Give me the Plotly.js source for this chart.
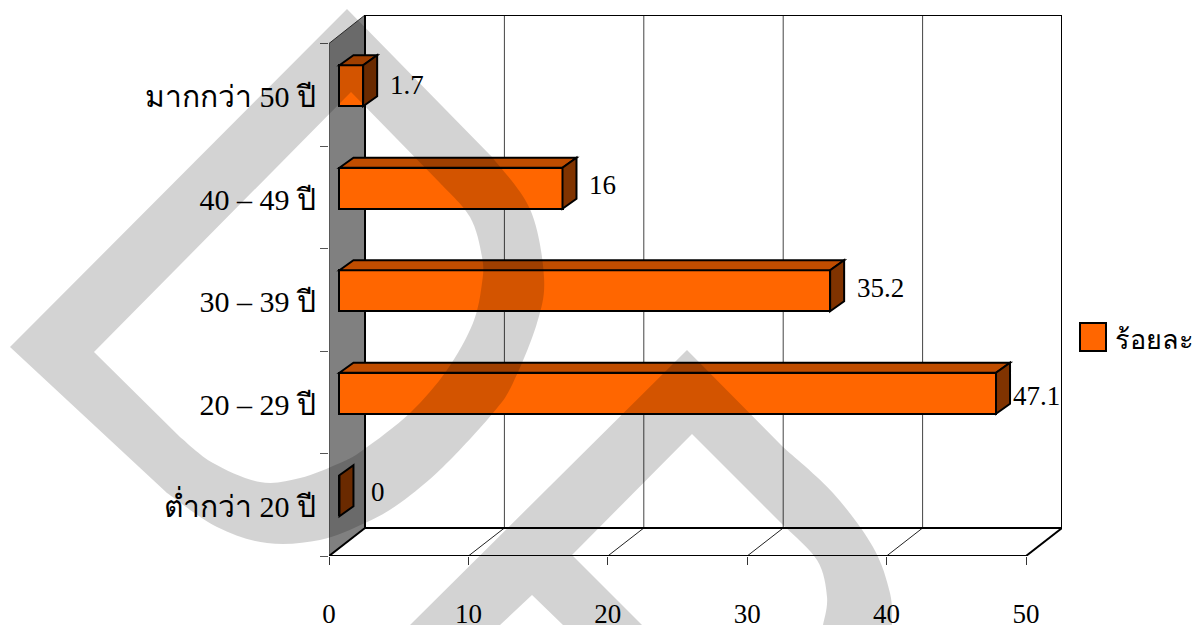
<!DOCTYPE html>
<html>
<head>
<meta charset="utf-8">
<script src="https://cdn.plot.ly/plotly-3.0.1.min.js"></script>
<style>html,body{margin:0;padding:0;background:#fff;overflow:hidden}</style>
</head>
<body>
<div id="chart" style="width:1193px;height:625px"></div>
<script>
// Age groups, bottom to top, and their percentages
const categories = ['ต่ำกว่า 20 ปี', '20 – 29 ปี', '30 – 39 ปี', '40 – 49 ปี', 'มากกว่า 50 ปี'];
const percents = [0, 47.1, 35.2, 16, 1.7];
const seriesName = 'ร้อยละ';
const xTicks = [0, 10, 20, 30, 40, 50];

// Pixel nudges for the value labels, same order as the categories
const labelNudgeX = [16, 1, 11, 11, 11];
const labelNudgeY = [1, 8, 2, 2, 4];

const FONT = '"Liberation Serif", "Times New Roman", serif';
const FRONT = '#FF6600', TOP = '#C04D00', SIDE = '#803300';

// Plot frame in page pixels
const L = 329, R = 1062, T = 15, B = 556;
const xMax = (R - L) / 13.94, yMax = (B - T) / 102.5;

// Oblique depth of the floor/wall and of a bar, in axis units
const wallDx = 36 / 13.94, wallDy = 28 / 102.5, topY = yMax;
const barBase = 0.75, barLift = 0.088, barThick = 0.4;
const barDx = 14 / 13.94, barDy = 10 / 102.5;

const poly = pts => 'M' + pts.map(p => p[0] + ',' + p[1]).join('L') + 'Z';
const line = (x0, y0, x1, y1, color, width) => ({
  type: 'line', xref: 'x', yref: 'y', x0, y0, x1, y1, layer: 'below',
  line: {color, width}
});

const shapes = [];

// Side wall, back wall, floor
shapes.push({type: 'path', xref: 'x', yref: 'y', layer: 'below',
  path: poly([[0, 0], [0, 5], [wallDx, topY], [wallDx, wallDy]]),
  fillcolor: '#808080', line: {color: '#333', width: 1}});
xTicks.slice(1).forEach(t => {
  shapes.push(line(t, 0, t + wallDx, wallDy, '#222', 1));
  if (t < 50) shapes.push(line(t + wallDx, wallDy, t + wallDx, topY, '#444', 1));
});
shapes.push(line(wallDx, wallDy, wallDx, topY, '#000', 2));
shapes.push(line(50 + wallDx, wallDy, 50 + wallDx, topY, '#000', 2));
shapes.push(line(wallDx, topY, 50 + wallDx, topY, '#000', 2));
shapes.push(line(wallDx, wallDy, 50 + wallDx, wallDy, '#000', 2));
shapes.push(line(0, 0, 50, 0, '#000', 2));
shapes.push(line(0, 0, wallDx, wallDy, '#000', 2));
shapes.push(line(50, 0, 50 + wallDx, wallDy, '#000', 2));

// Top and side faces of each box
percents.forEach((v, i) => {
  const x1 = barBase + v;
  const y0 = i + 0.5 + barLift - barThick / 2, y1 = y0 + barThick;
  const edge = {color: '#000', width: 2};
  if (v > 0) {
    shapes.push({type: 'path', xref: 'x', yref: 'y', layer: 'above', fillcolor: TOP, line: edge,
      path: poly([[barBase, y1], [barBase + barDx, y1 + barDy], [x1 + barDx, y1 + barDy], [x1, y1]])});
  }
  shapes.push({type: 'path', xref: 'x', yref: 'y', layer: 'above', fillcolor: SIDE, line: edge,
    path: poly([[x1, y0], [x1 + barDx, y0 + barDy], [x1 + barDx, y1 + barDy], [x1, y1]])});
});

// Legend swatch
const pxX = x => (x - L) / (R - L);
const pxY = y => 1 - (y - T) / (B - T);
shapes.push({type: 'rect', xref: 'paper', yref: 'paper', layer: 'above',
  x0: pxX(1080), x1: pxX(1106), y0: pxY(351), y1: pxY(323),
  fillcolor: FRONT, line: {color: '#000', width: 2}});

// Smooth path through page-pixel points, converted to paper coordinates
function curve(points) {
  let d = '';
  const P = i => points[Math.max(0, Math.min(points.length - 1, i))];
  for (let i = 0; i < points.length - 1; i++) {
    const a = P(i - 1), b = P(i), c = P(i + 1), e = P(i + 2);
    const c1 = [b[0] + (c[0] - a[0]) / 6, b[1] + (c[1] - a[1]) / 6];
    const c2 = [c[0] - (e[0] - b[0]) / 6, c[1] - (e[1] - b[1]) / 6];
    d += 'C' + [c1, c2, c].map(p => pxX(p[0]) + ',' + pxY(p[1])).join(' ');
  }
  return d;
}
const start = p => 'M' + pxX(p[0]) + ',' + pxY(p[1]);
const to = p => 'L' + pxX(p[0]) + ',' + pxY(p[1]);

// Large translucent monogram lying over the whole figure
const stampD =
  start([347, 9]) + to([492, 157]) +
  curve([[492, 157], [530, 209], [544, 277], [537, 323], [513, 383], [493, 413], [443, 467], [400, 503], [365, 523], [320, 540], [267, 543], [217, 527], [167, 493]]) +
  to([10, 347]) + 'Z' +
  start([351, 92]) + to([94, 352]) + to([180, 437]) +
  curve([[180, 437], [213, 463], [260, 482], [300, 478], [340, 463], [363, 450], [410, 413], [447, 370], [473, 323], [482, 283], [482, 257], [470, 217], [440, 183]]) +
  to([351, 92]) + 'Z';
const stampP =
  start([687, 350]) + to([783, 447]) +
  curve([[783, 447], [833, 493], [873, 547], [890, 593], [892, 625]]) +
  to([823, 625]) +
  curve([[823, 625], [827, 597], [817, 560], [783, 525]]) +
  to([692, 434]) + to([572, 555]) + to([642, 625]) + to([563, 625]) +
  to([532, 595]) + to([500, 625]) + to([410, 625]) + 'Z';
[stampD, stampP].forEach(path => shapes.push({
  type: 'path', xref: 'paper', yref: 'paper', layer: 'above', path,
  fillcolor: 'rgba(0,0,0,0.172)', line: {width: 0}
}));

// Value labels sit past the end of each box
const annotations = percents.map((v, i) => ({
  xref: 'x', yref: 'y', x: barBase + v + barDx, y: i + 0.5 + barLift + barDy / 2,
  text: String(v), showarrow: false, xanchor: 'left', yanchor: 'middle',
  xshift: labelNudgeX[i], yshift: -labelNudgeY[i],
  font: {family: FONT, size: 27, color: '#000'}
}));
annotations.push({
  xref: 'paper', yref: 'paper', x: pxX(1113), y: pxY(340), xanchor: 'left', yanchor: 'middle',
  text: seriesName, showarrow: false, font: {family: FONT, size: 27, color: '#000'}
});

const yPositions = categories.map((_, i) => i + 0.5);

const data = [{
  type: 'bar', orientation: 'h', name: seriesName, showlegend: false,
  x: percents, y: yPositions.map(y => y + barLift), base: barBase, width: barThick,
  marker: {color: FRONT, line: {color: '#000', width: 2}},
  hovertemplate: '%{x}<extra></extra>'
}];

const layout = {
  width: 1193, height: 625,
  margin: {l: L, r: 1193 - R, t: T, b: 625 - B, pad: 0},
  paper_bgcolor: '#fff', plot_bgcolor: 'rgba(0,0,0,0)',
  showlegend: false,
  font: {family: FONT, color: '#000', size: 27},
  xaxis: {
    range: [0, xMax], fixedrange: true, showgrid: false, zeroline: false, showline: false,
    tickmode: 'array', tickvals: xTicks, ticktext: xTicks.map(String),
    ticks: 'outside', ticklen: 8, tickcolor: '#333', tickwidth: 1,
    ticklabelstandoff: 26, tickfont: {family: FONT, size: 27, color: '#000'}
  },
  yaxis: {
    range: [0, yMax], fixedrange: true, showgrid: false, zeroline: false, showline: false,
    tickmode: 'array', tickvals: yPositions.map(y => y - 0.02), ticktext: categories,
    ticks: 'outside', ticklen: 6, tickcolor: 'rgba(0,0,0,0)',
    tickfont: {family: FONT, size: 30, color: '#000'},
    minor: {tickmode: 'linear', tick0: 0, dtick: 1, ticks: 'outside', ticklen: 8, tickcolor: '#555', tickwidth: 1, showgrid: false}
  },
  bargap: 0,
  shapes, annotations
};

Plotly.newPlot('chart', data, layout, {displayModeBar: false, responsive: false});
</script>
</body>
</html>
